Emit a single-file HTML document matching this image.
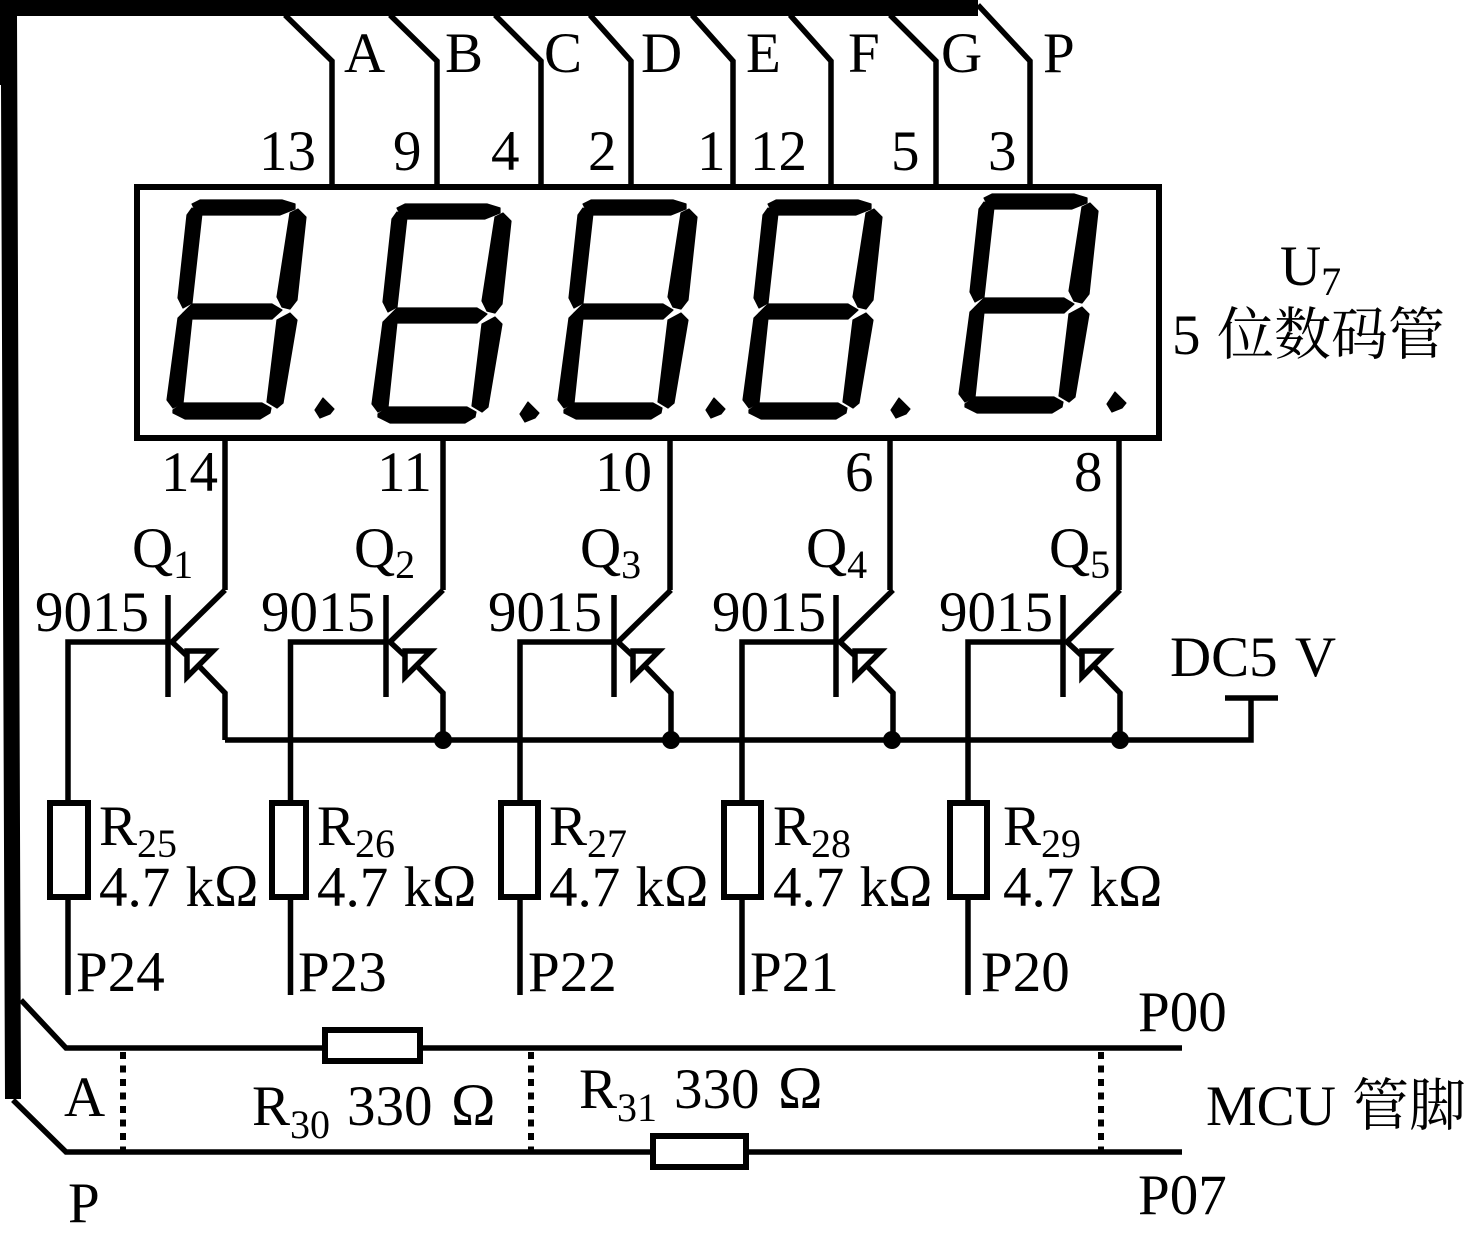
<!DOCTYPE html>
<html><head><meta charset="utf-8"><style>
html,body{margin:0;padding:0;background:#fff}
svg{display:block}
text{font-family:"Liberation Serif","Noto Serif CJK SC",serif;font-size:57px;fill:#000}
tspan.s{font-size:40px}
tspan.o{font-size:60px}
text.k{word-spacing:4px}
text.m{word-spacing:1px}
</style></head><body>
<svg xmlns="http://www.w3.org/2000/svg" width="1471" height="1242" viewBox="0 0 1471 1242">
<defs>
<g id="dg" stroke="#000" stroke-width="1.200" stroke-linejoin="round">
<polygon points="192,204 200,200 282,200 295,204 295,209 280,215 202,215 195,210"/>
<polygon points="290,213 298,209 306,217 297,300 290,309 282,307 277,297"/>
<polygon points="187,215 192,208 202,213 192,303 183,308 178,298"/>
<polygon points="192,304 272,304 282,310 272,319 190,319 183,313"/>
<polygon points="178,318 183,313 192,318 183,403 173,408 167,400"/>
<polygon points="277,320 290,313 297,320 283,403 277,408 267,402"/>
<polygon points="173,410 183,403 262,403 271,408 270,413 260,419 185,419 173,413"/>
<polygon points="323,398 334,409 330,414 320,418 315,410"/>
</g>
<g id="tr" fill="none" stroke="#000" stroke-width="5.5">
<path d="M168,595V697"/>
<path d="M225,590L172,642L186,655"/>
<path d="M187,651H213L187,677Z"/>
<path d="M198,665L225,693V740"/>
</g>
</defs>
<!-- bus -->
<path d="M0,0H978V16H17L21,1099H5L1,85H0Z"/>
<g fill="none" stroke="#000" stroke-width="5.5">
<path d="M285,15L332,61V187M390,15L437,61V187M495,15L541,61V187M590,15L631,61V187M692,15L733,61V187M790,15L831,61V187M890,15L936,61V187M978,5L1030,61V187"/>
<rect x="137" y="187" width="1022" height="251" stroke-width="6"/>
<path d="M225,437V590M443,437V590M670,437V590M890,437V590M1119,437V590"/>
<path d="M225,740H1251V698M1225,698H1278"/>
<path d="M21,1000L66,1048H1182M13,1100L66,1152H1182"/>
<path d="M168,642H68V995M386,642H290.500V995M614,642H520V995M836,642H742V995M1063,642H968V995"/>
<g fill="#fff" stroke-width="6">
<rect x="50" y="803" width="38" height="94"/>
<rect x="272" y="803" width="34" height="94"/>
<rect x="501" y="803" width="37" height="94"/>
<rect x="724" y="803" width="37" height="94"/>
<rect x="950" y="803" width="37" height="94"/>
<rect x="325" y="1030" width="95" height="31"/>
<rect x="653" y="1136" width="93" height="31"/>
</g>
<path d="M123,1052V1150M531,1052V1150M1101,1052V1150" stroke-width="6" stroke-dasharray="7 6.500"/>
</g>
<use href="#dg"/>
<use href="#dg" x="205" y="4"/>
<use href="#dg" x="391" y="0"/>
<use href="#dg" x="576" y="0"/>
<use href="#dg" x="792" y="-6"/>
<use href="#tr"/>
<use href="#tr" x="218"/>
<use href="#tr" x="446"/>
<use href="#tr" x="668"/>
<use href="#tr" x="895"/>
<circle cx="443" cy="740" r="9"/><circle cx="671" cy="740" r="9"/><circle cx="892" cy="740" r="9"/><circle cx="1120" cy="740" r="9"/>
<!-- labels -->
<text x="344" y="72">A</text><text x="445" y="72">B</text><text x="544" y="72">C</text><text x="641" y="72">D</text><text x="746" y="72">E</text><text x="848" y="72">F</text><text x="941" y="72">G</text><text x="1043" y="72">P</text>
<text x="259" y="170">13</text><text x="393" y="170">9</text><text x="491" y="170">4</text><text x="588" y="170">2</text><text x="697" y="170">1</text><text x="750" y="170">12</text><text x="891" y="170">5</text><text x="988" y="170">3</text>
<text x="1280" y="285">U<tspan class="s" dy="10">7</tspan></text>
<text x="1172" y="354">5 <tspan x="1217">位数码管</tspan></text>
<text x="161" y="491">14</text><text x="377" y="491">11</text><text x="595" y="491">10</text><text x="845" y="491">6</text><text x="1074" y="491">8</text>
<text x="132" y="567">Q<tspan class="s" dy="11">1</tspan></text>
<text x="354" y="567">Q<tspan class="s" dy="11">2</tspan></text>
<text x="580" y="567">Q<tspan class="s" dy="11">3</tspan></text>
<text x="806" y="567">Q<tspan class="s" dy="11">4</tspan></text>
<text x="1049" y="567">Q<tspan class="s" dy="11">5</tspan></text>
<text x="35" y="631">9015</text><text x="261" y="631">9015</text><text x="488" y="631">9015</text><text x="712" y="631">9015</text><text x="939" y="631">9015</text>
<text x="1170" y="676" class="k">DC5 V</text>
<text x="99" y="845">R<tspan class="s" dy="12">25</tspan></text>
<text x="317" y="845">R<tspan class="s" dy="12">26</tspan></text>
<text x="549" y="845">R<tspan class="s" dy="12">27</tspan></text>
<text x="773" y="845">R<tspan class="s" dy="12">28</tspan></text>
<text x="1003" y="845">R<tspan class="s" dy="12">29</tspan></text>
<text x="99" y="906" class="m">4.7 k<tspan class="o">Ω</tspan></text><text x="317" y="906" class="m">4.7 k<tspan class="o">Ω</tspan></text><text x="549" y="906" class="m">4.7 k<tspan class="o">Ω</tspan></text><text x="773" y="906" class="m">4.7 k<tspan class="o">Ω</tspan></text><text x="1003" y="906" class="m">4.7 k<tspan class="o">Ω</tspan></text>
<text x="76" y="991">P24</text><text x="298" y="991">P23</text><text x="528" y="991">P22</text><text x="750" y="991">P21</text><text x="981" y="991">P20</text>
<text x="1138" y="1031">P00</text>
<text x="1138" y="1214">P07</text>
<text x="64" y="1116">A</text>
<text x="68" y="1222">P</text>
<text x="252" y="1125">R<tspan class="s" dy="13">30</tspan><tspan x="347" dy="-13">330</tspan><tspan x="451" class="o">Ω</tspan></text>
<text x="579" y="1108">R<tspan class="s" dy="13">31</tspan><tspan x="674" dy="-13">330</tspan><tspan x="778" class="o">Ω</tspan></text>
<text x="1206" y="1125">MCU<tspan x="1352">管脚</tspan></text>
</svg>
</body></html>
